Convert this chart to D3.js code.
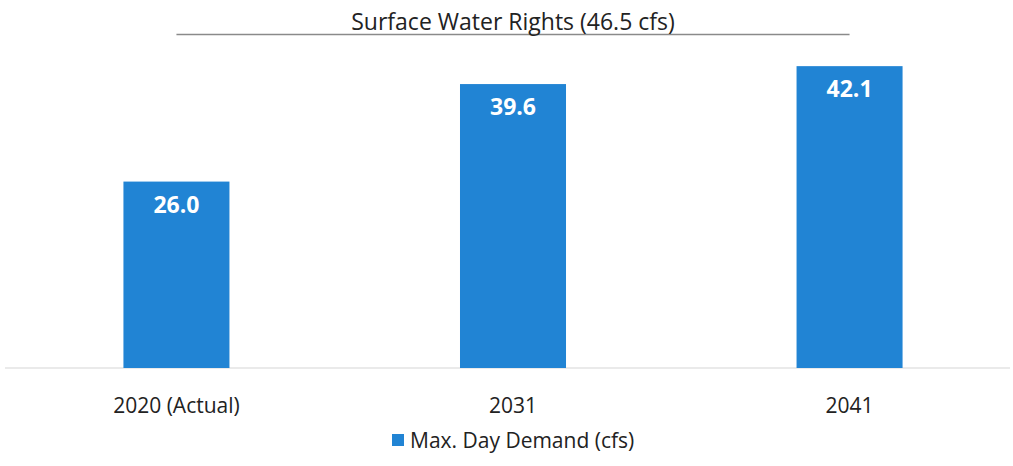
<!DOCTYPE html>
<html>
<head>
<meta charset="utf-8">
<script src="https://cdn.jsdelivr.net/npm/d3@7"></script>
<style>
  body { margin: 0; background: #fff; }
  svg { display: block; }
</style>
</head>
<body>
<div id="chart"></div>
<script>
// ----------------------------
// Data
// ----------------------------
var categories = ["2020 (Actual)", "2031", "2041"];
var demand = [26.0, 39.6, 42.1];
var rightsValue = 46.5;
var rightsLabel = "Surface Water Rights (46.5 cfs)";
var legendLabel = "Max. Day Demand (cfs)";

var Vis = {};
Vis.width = 1013;
Vis.height = 466;
Vis.barColor = "#2184d4";

Vis.svg = d3.select("#chart").append("svg")
  .attr("width", Vis.width)
  .attr("height", Vis.height);

// ----------------------------
// Scales
// ----------------------------
Vis.x = d3.scaleBand()
  .domain(categories)
  .range([8, 1018])
  .paddingInner(0.685)
  .paddingOuter(0.343);

Vis.y = d3.scaleLinear()
  .domain([0, 50])
  .range([368, 9.5]);

// baseline
Vis.svg.append("line")
  .attr("x1", 5).attr("x2", 1010)
  .attr("y1", Vis.y(0)).attr("y2", Vis.y(0))
  .attr("stroke", "#d6d6d6")
  .attr("stroke-width", 1.2);

// ----------------------------
// Bars
// ----------------------------
Vis.svg.selectAll("rect.bar")
  .data(demand)
  .enter()
  .append("rect")
  .attr("class", "bar")
  .attr("x", (d, i) => Vis.x(categories[i]))
  .attr("y", d => Vis.y(d))
  .attr("width", Vis.x.bandwidth())
  .attr("height", d => Vis.y(0) - Vis.y(d))
  .attr("fill", Vis.barColor);

Vis.svg.selectAll("text.val")
  .data(demand)
  .enter()
  .append("text")
  .attr("class", "val")
  .attr("x", (d, i) => Vis.x(categories[i]) + Vis.x.bandwidth() / 2)
  .attr("y", d => Vis.y(d) + 31)
  .attr("text-anchor", "middle")
  .attr("font-family", "'Open Sans', sans-serif")
  .attr("font-weight", "bold")
  .attr("font-size", 23)
  .attr("fill", "#fff")
  .text(d => d.toFixed(1));

// ----------------------------
// Water rights line
// ----------------------------
var cx = c => Vis.x(c) + Vis.x.bandwidth() / 2;
Vis.svg.append("line")
  .attr("x1", cx(categories[0]))
  .attr("x2", cx(categories[categories.length - 1]))
  .attr("y1", Vis.y(rightsValue)).attr("y2", Vis.y(rightsValue))
  .attr("stroke", "#8a8a8a")
  .attr("stroke-width", 1.5);

Vis.svg.append("text")
  .attr("x", cx(categories[1]))
  .attr("y", Vis.y(rightsValue) - 5)
  .attr("text-anchor", "middle")
  .attr("font-family", "'Open Sans', sans-serif")
  .attr("font-size", 23)
  .attr("fill", "#222")
  .text(rightsLabel);

// ----------------------------
// Category labels
// ----------------------------
Vis.svg.selectAll("text.cat")
  .data(categories)
  .enter()
  .append("text")
  .attr("class", "cat")
  .attr("x", d => cx(d))
  .attr("y", 413)
  .attr("text-anchor", "middle")
  .attr("font-family", "'Open Sans', sans-serif")
  .attr("font-size", 21)
  .attr("fill", "#222")
  .text(d => d);

// ----------------------------
// Legend
// ----------------------------
Vis.svg.append("rect")
  .attr("x", 392).attr("y", 434)
  .attr("width", 12).attr("height", 12)
  .attr("fill", Vis.barColor);

Vis.svg.append("text")
  .attr("x", 410)
  .attr("y", 447.5)
  .attr("font-family", "'Open Sans', sans-serif")
  .attr("font-size", 21)
  .attr("fill", "#222")
  .text(legendLabel);
</script>
</body>
</html>
